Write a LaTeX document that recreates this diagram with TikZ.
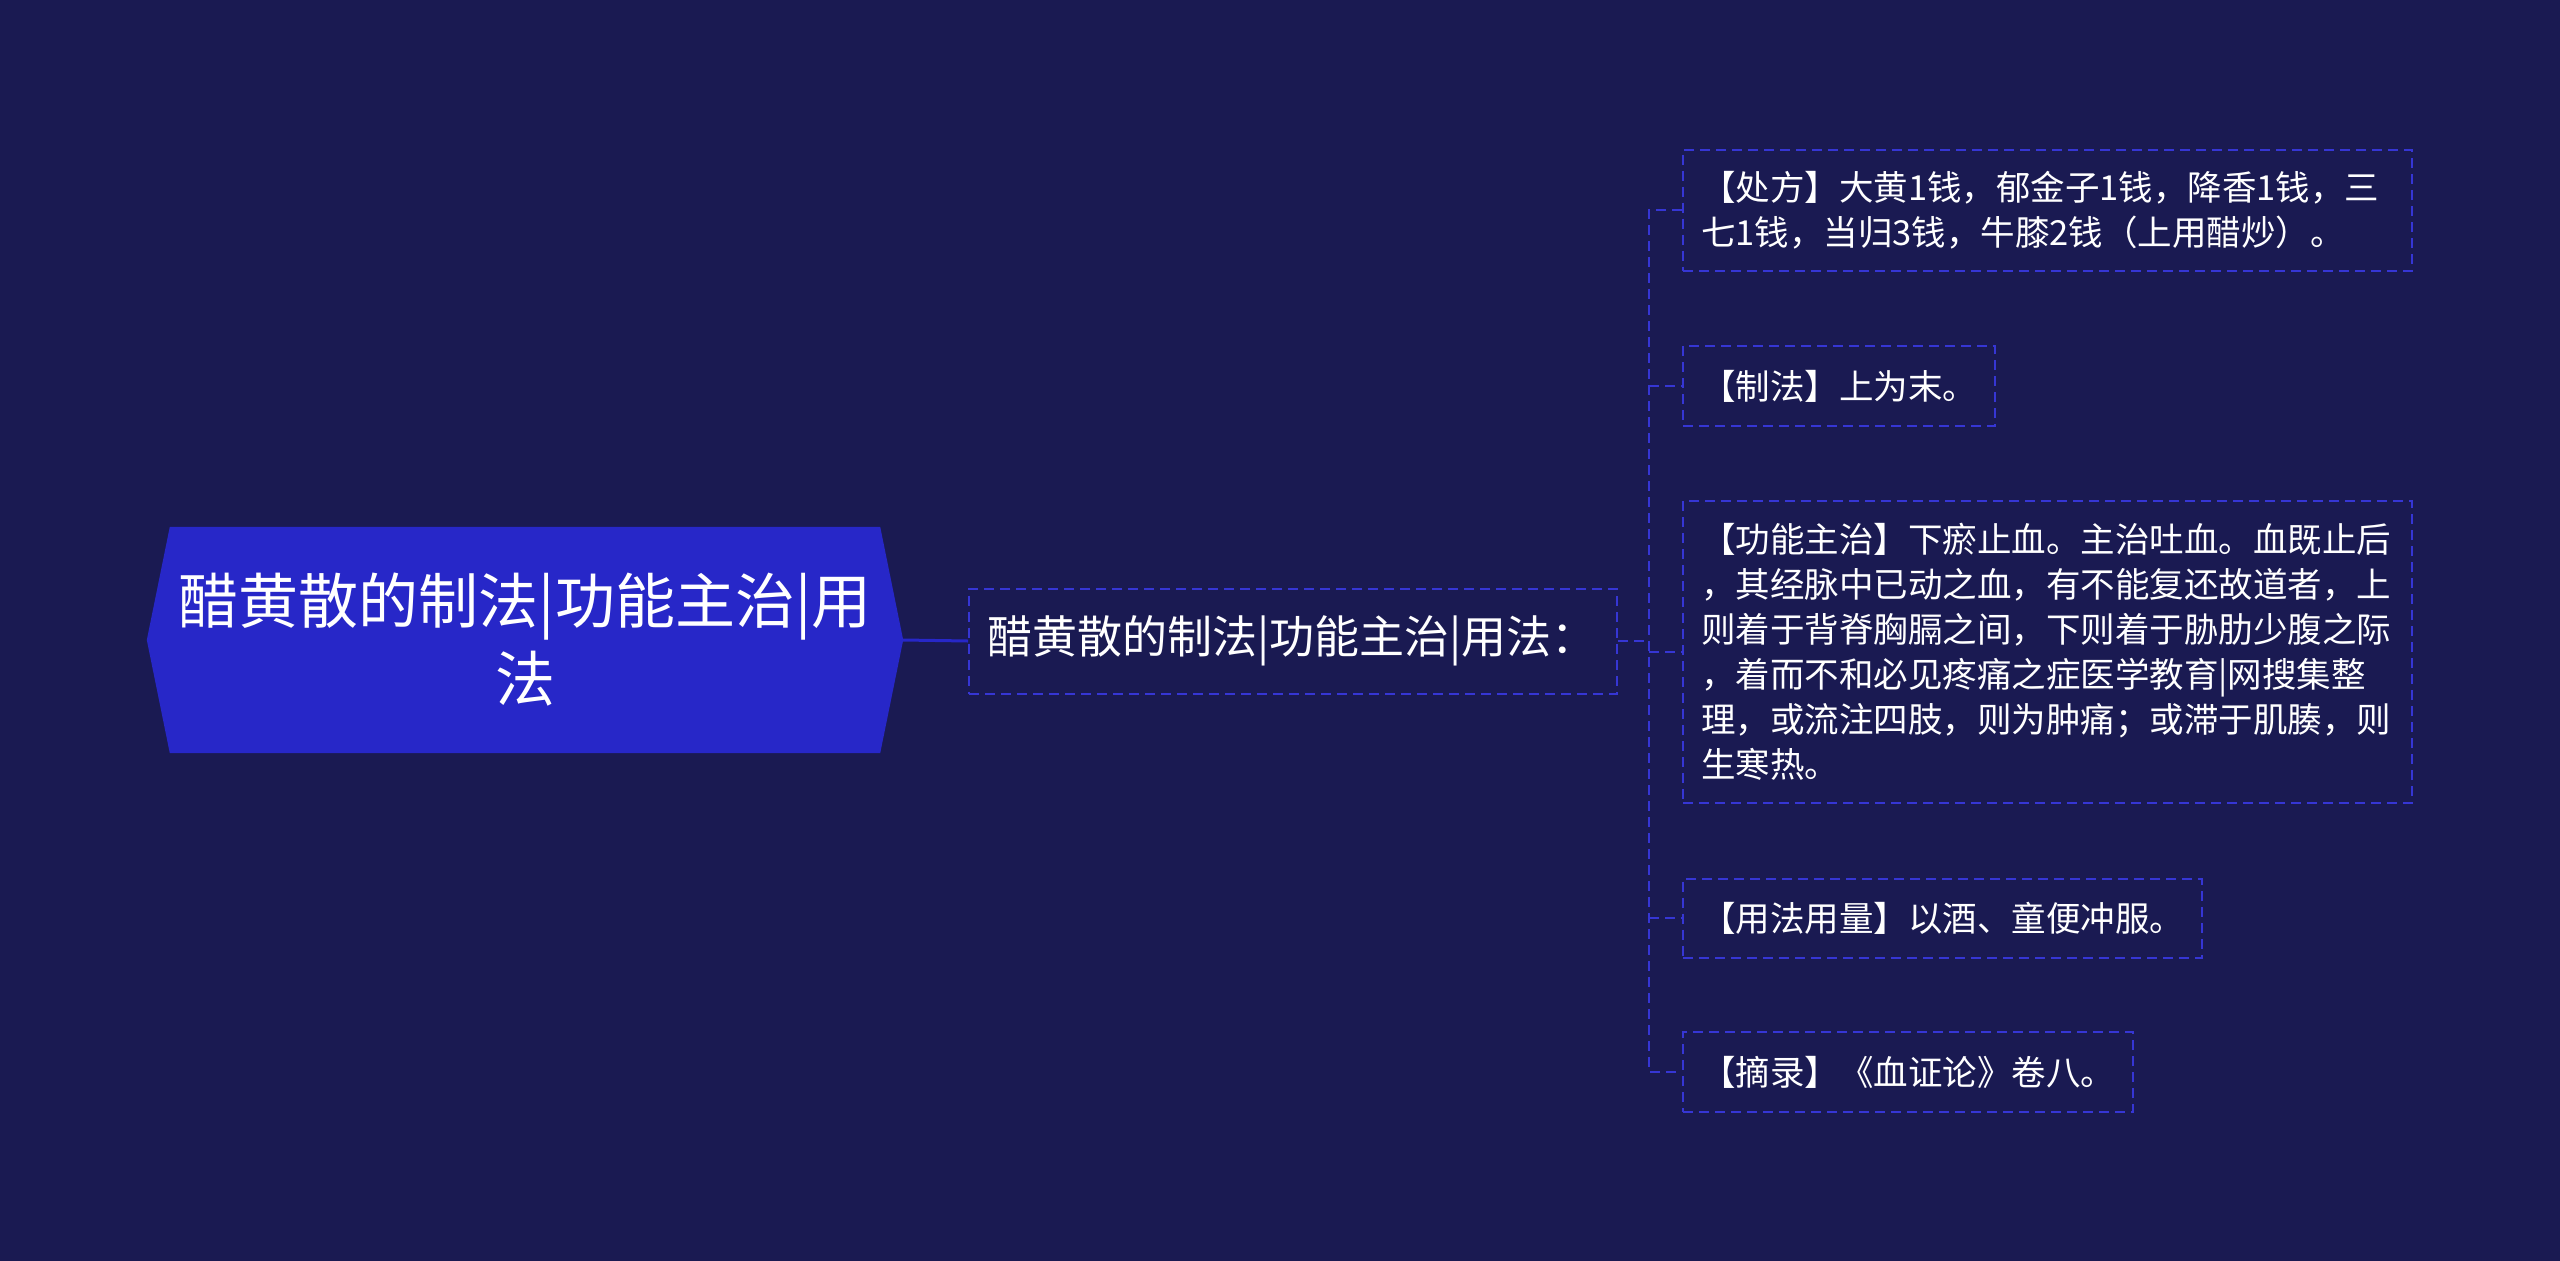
\documentclass[tikz,border=0pt]{standalone}
\usepackage{fontspec}
\usepackage{tikz}
\usetikzlibrary{positioning}
\newfontfamily\cjk{Noto Sans CJK SC}
\definecolor{bgnavy}{RGB}{26,26,82}
\definecolor{rootblue}{RGB}{39,39,200}
\definecolor{dashblue}{RGB}{54,54,212}
\pgfdeclarelayer{background}
\pgfsetlayers{background,main}
\tikzset{
	x=1pt, y=-1pt, % one unit is one pixel, y runs downwards
	every node/.style={text=white}, % all texts are white
	topic/.style={minimum width=756pt, minimum height=226pt, inner sep=0pt, align=center, font=\cjk\fontsize{60}{78}\selectfont}, % the big pointed box on the left
	dashbox/.style={draw=dashblue, line width=2pt, dash pattern=on 10pt off 6pt}, % dashed frame of the other boxes
	sub/.style={dashbox, anchor=west, text width=612pt, inner xsep=18pt, minimum height=105pt, align=left, font=\cjk\fontsize{45}{52}\selectfont}, % middle box
	leaf/.style={dashbox, anchor=west, inner xsep=18pt, align=left, font=\cjk\fontsize{34.5}{45}\selectfont}, % boxes on the right
	branch/.style={draw=dashblue, line width=2pt, dash pattern=on 10pt off 6pt}, % dashed connectors
	stem/.style={draw=rootblue, line width=3pt}, % solid connector from the big box
}
\begin{document}
\begin{tikzpicture}
	\useasboundingbox (0,0) rectangle (2560,1261);
			\node[topic] (root) at (525,640) {醋黄散的制法|功能主治|用\\法};
			\node[sub] (mid) at (968,641) {醋黄散的制法|功能主治|用法：};
			\node[leaf, text width=693pt, minimum height=121pt] (chufang) at (1682,210) {【处方】大黄1钱，郁金子1钱，降香1钱，三\\七1钱，当归3钱，牛膝2钱（上用醋炒）。};
			\node[leaf, minimum height=80pt] (zhifa) at (1682,386) {【制法】上为末。};
			\node[leaf, text width=693pt, minimum height=302pt] (gongneng) at (1682,652) {【功能主治】下瘀止血。主治吐血。血既止后\\，其经脉中已动之血，有不能复还故道者，上\\则着于背脊胸膈之间，下则着于胁肋少腹之际\\，着而不和必见疼痛之症医学教育|网搜集整\\理，或流注四肢，则为肿痛；或滞于肌腠，则\\生寒热。};
			\node[leaf, minimum height=79pt] (yongfa) at (1682,918) {【用法用量】以酒、童便冲服。};
			\node[leaf, minimum height=80pt] (zhailu) at (1682,1072) {【摘录】《血证论》卷八。};
			\coordinate (fork) at (1649,641);
	\begin{pgfonlayer}{background}
	\fill[bgnavy] (0,0) rectangle (2560,1261);
	\fill[rootblue] (root.west) -- ([xshift=23pt]root.north west) -- ([xshift=-23pt]root.north east)
			-- (root.east) -- ([xshift=-23pt]root.south east) -- ([xshift=23pt]root.south west) -- cycle;
	\end{pgfonlayer}
	\draw[stem] (root.east) -- (mid.west);
	\draw[branch] (mid.east) -- (fork);
	\draw[branch] (chufang.west) -| (fork) |- (zhailu.west);
	\draw[branch] (fork |- zhifa.west) -- (zhifa.west)
			(fork |- gongneng.west) -- (gongneng.west)
			(fork |- yongfa.west) -- (yongfa.west);
	\end{tikzpicture}
\end{document}
